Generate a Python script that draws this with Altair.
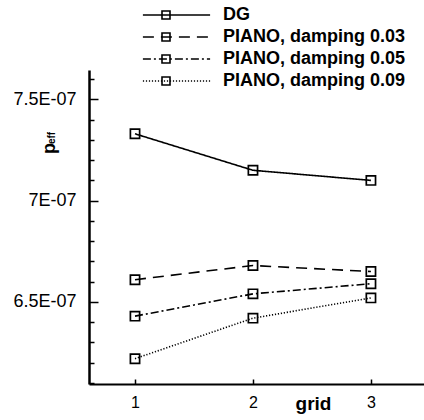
import altair as alt
import pandas as pd

# ---- data ----
grid = [1, 2, 3]
series_names = ["DG", "PIANO, damping 0.03", "PIANO, damping 0.05", "PIANO, damping 0.09"]
dg = [7.33e-7, 7.15e-7, 7.10e-7]
piano_003 = [6.61e-7, 6.68e-7, 6.65e-7]
piano_005 = [6.43e-7, 6.54e-7, 6.59e-7]
piano_009 = [6.22e-7, 6.42e-7, 6.52e-7]

x_ticks = [1, 2, 3]
y_major = [6.5e-7, 7.0e-7, 7.5e-7]
y_major_labels = ["6.5E-07", "7E-07", "7.5E-07"]
y_minor = [6.1e-7, 6.2e-7, 6.3e-7, 6.4e-7, 6.5e-7, 6.6e-7, 6.7e-7, 6.8e-7,
           6.9e-7, 7.0e-7, 7.1e-7, 7.2e-7, 7.3e-7, 7.4e-7, 7.5e-7, 7.6e-7]
dashes = [[1, 0], [11, 7], [8, 3, 2, 3], [1.2, 1.8]]

rows = []
for name, vals in zip(series_names, [dg, piano_003, piano_005, piano_009]):
    for g, v in zip(grid, vals):
        rows.append({"grid": g, "value": v, "series": name, "series_b": name})
df = pd.DataFrame(rows)

FONT = "Liberation Sans"
W, H = 335, 314

label_expr = " : ".join(
    f"abs(datum.value - {v!r}) < 1e-10 ? '{t}'" for v, t in zip(y_major, y_major_labels)
) + " : ''"
major_test = " || ".join(f"abs(datum.value - {v!r}) < 1e-10" for v in y_major)

x_scale = alt.Scale(domain=[0.61, 3.45], nice=False, zero=False)
y_scale = alt.Scale(domain=[6.095e-7, 7.645e-7], nice=False, zero=False)

base = alt.Chart(df)

lines = base.mark_line(color="black", strokeWidth=1.6).encode(
    x=alt.X("grid:Q", scale=x_scale,
            axis=alt.Axis(values=x_ticks, orient="bottom", ticks=False, tickSize=0,
                          labelFontSize=16, labelPadding=10, grid=False,
                          domainColor="black", domainWidth=1.8,
                          title="grid", titleFontSize=19, titleFontWeight="bold",
                          titleX=224, titleY=25, titleAlign="center",
                          titleBaseline="alphabetic")),
    y=alt.Y("value:Q", scale=y_scale,
            axis=alt.Axis(values=y_major, orient="left", ticks=False, tickSize=0,
                          labelExpr=label_expr, labelFontSize=18, labelPadding=13,
                          grid=False, domainColor="black", domainWidth=2.5,
                          title="p", titleFontSize=18, titleFontWeight="bold",
                          titleAngle=270, titleX=-40, titleY=78, titleAlign="center",
                          titleBaseline="middle")),
    strokeDash=alt.StrokeDash(
        "series:N",
        scale=alt.Scale(domain=series_names, range=dashes),
        legend=alt.Legend(orient="none", legendX=78.5, legendY=-64, title=None,
                          symbolType="M-8.4,0H8.4", symbolSize=64,
                          symbolStrokeWidth=1.6, symbolStrokeColor="black",
                          labelFontSize=18, labelFont=FONT, labelFontWeight="bold",
                          labelColor="black", labelOffset=37.5, rowPadding=4,
                          padding=0, labelLimit=400)),
)

points = base.mark_point(shape="square", filled=False, color="black", size=85,
                         strokeWidth=1.7, opacity=1).encode(
    x=alt.X("grid:Q", scale=x_scale,
            axis=alt.Axis(values=x_ticks, orient="top", offset=-H, labels=False,
                          domain=False, ticks=True, tickSize=5, tickWidth=1.5,
                          tickColor="black", grid=False, title=None)),
    y=alt.Y("value:Q", scale=y_scale,
            axis=alt.Axis(values=y_minor, orient="right", offset=-W, labels=False,
                          domain=False, ticks=True,
                          tickSize={"condition": {"test": major_test, "value": 9}, "value": 5},
                          tickWidth=1.5, tickColor="black", grid=False, title=None)),
    shape=alt.Shape(
        "series_b:N",
        scale=alt.Scale(range=["square"]),
        legend=alt.Legend(orient="none", legendX=68, legendY=-64, title=None,
                          symbolSize=64, symbolStrokeWidth=1.6,
                          symbolStrokeColor="black", symbolFillColor="transparent",
                          labelExpr="''", labelFontSize=18, labelFont=FONT,
                          labelFontWeight="bold", rowPadding=4, padding=0)),
)

eff = alt.Chart(pd.DataFrame({"t": ["eff"]})).mark_text(
    fontSize=10, fontWeight="bold", angle=270, align="center", baseline="middle",
    font=FONT, color="black").encode(
    text="t:N", x=alt.value(-37), y=alt.value(68))

chart = alt.layer(lines, points, eff).resolve_axis(
    x="independent", y="independent"
).properties(
    width=W, height=H,
    padding={"left": 89, "top": 70, "right": 0, "bottom": 36},
    autosize=alt.AutoSizeParams(type="none"),
    background="white",
).configure_view(stroke=None).configure_axis(
    labelFont=FONT, titleFont=FONT, labelColor="black", titleColor="black"
).configure_legend(labelFont=FONT)

chart.save("out.html", embed_options={"renderer": "svg", "actions": False})
